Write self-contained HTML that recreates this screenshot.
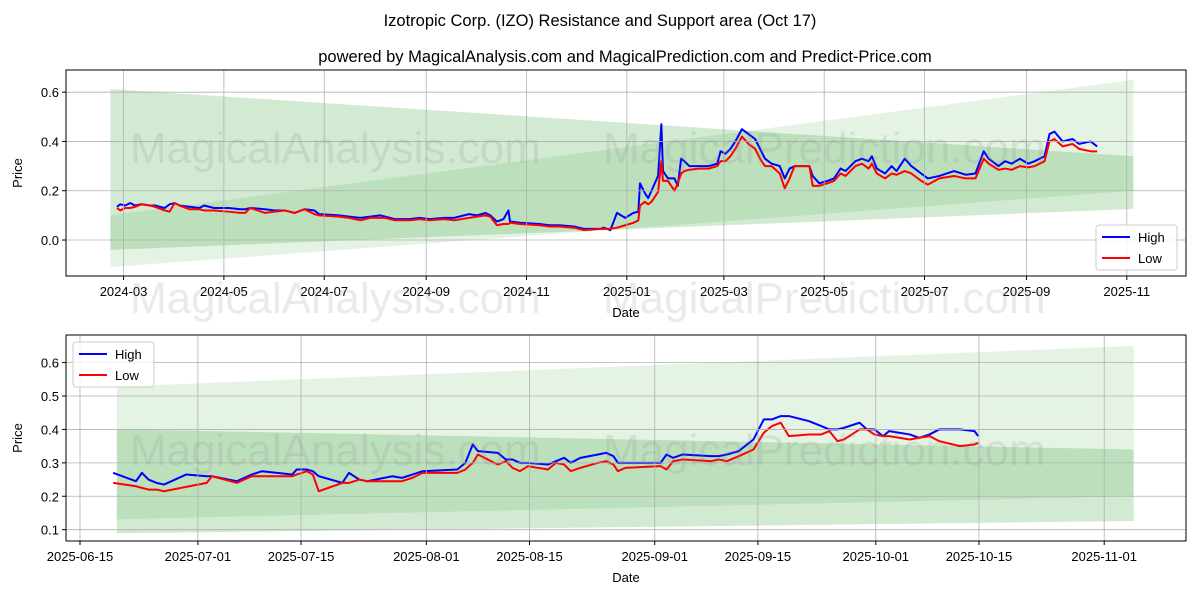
<!DOCTYPE html>
<html><head><meta charset="utf-8"><style>
body{margin:0;background:#fff;}
svg{display:block;font-family:"Liberation Sans","DejaVu Sans",sans-serif;}
</style></head><body>
<svg id="c" width="1200" height="600">
<text x="600" y="26" text-anchor="middle" font-size="16.5">Izotropic Corp. (IZO) Resistance and Support area (Oct 17)</text>
<text x="625" y="62" text-anchor="middle" font-size="16.5">powered by MagicalAnalysis.com and MagicalPrediction.com and Predict-Price.com</text>
</svg>
<script>
// ---- Top chart data (day offsets from 2024-03-01) ----
const topDays=[-4,-2,1,4,7,11,16,19,25,28,31,34,40,46,49,55,64,71,74,77,86,92,98,104,110,116,119,131,137,144,150,156,159,165,174,180,186,195,201,210,215,220,223,227,231,234,235,241,253,259,265,274,280,290,292,296,300,305,310,313,314,317,319,321,325,327,328,331,335,337,339,341,344,350,356,361,363,366,369,372,376,380,384,387,390,394,399,402,405,408,417,419,423,428,432,436,439,445,449,453,455,458,463,467,470,475,479,485,489,496,505,512,518,523,526,532,536,540,545,550,554,560,563,566,571,577,581,588,592];
const topHigh=[0.135,0.145,0.14,0.15,0.14,0.145,0.14,0.14,0.13,0.145,0.15,0.14,0.135,0.13,0.14,0.13,0.13,0.125,0.125,0.13,0.125,0.12,0.12,0.11,0.125,0.12,0.105,0.10,0.095,0.09,0.095,0.10,0.095,0.085,0.085,0.09,0.085,0.09,0.09,0.105,0.10,0.11,0.10,0.075,0.085,0.12,0.075,0.07,0.065,0.06,0.06,0.055,0.045,0.045,0.05,0.04,0.11,0.09,0.11,0.115,0.23,0.19,0.17,0.20,0.26,0.47,0.28,0.25,0.25,0.22,0.33,0.32,0.30,0.30,0.30,0.31,0.36,0.35,0.37,0.40,0.45,0.43,0.41,0.37,0.33,0.31,0.30,0.25,0.29,0.30,0.30,0.26,0.23,0.24,0.25,0.29,0.28,0.32,0.33,0.32,0.34,0.29,0.27,0.30,0.28,0.33,0.30,0.27,0.25,0.26,0.28,0.265,0.27,0.36,0.33,0.30,0.32,0.31,0.33,0.31,0.32,0.34,0.43,0.44,0.40,0.41,0.39,0.40,0.38];
const topLow=[0.13,0.12,0.13,0.13,0.135,0.145,0.14,0.135,0.12,0.115,0.15,0.14,0.125,0.125,0.12,0.12,0.115,0.11,0.11,0.13,0.11,0.115,0.12,0.11,0.125,0.105,0.10,0.095,0.09,0.08,0.09,0.09,0.09,0.08,0.08,0.085,0.08,0.085,0.08,0.09,0.095,0.10,0.095,0.06,0.065,0.065,0.07,0.065,0.06,0.055,0.055,0.05,0.04,0.045,0.045,0.045,0.05,0.06,0.07,0.08,0.14,0.155,0.145,0.155,0.195,0.32,0.24,0.24,0.20,0.23,0.27,0.28,0.285,0.29,0.29,0.30,0.32,0.32,0.34,0.37,0.42,0.39,0.37,0.33,0.30,0.30,0.27,0.21,0.25,0.30,0.30,0.22,0.22,0.23,0.24,0.27,0.26,0.30,0.31,0.29,0.31,0.27,0.25,0.27,0.265,0.28,0.27,0.24,0.225,0.25,0.26,0.25,0.25,0.33,0.31,0.285,0.29,0.285,0.30,0.295,0.30,0.32,0.40,0.41,0.38,0.39,0.37,0.36,0.36];
const topYTicks=[0.0,0.2,0.4,0.6];
const topXTicks=["2024-03","2024-05","2024-07","2024-09","2024-11","2025-01","2025-03","2025-05","2025-07","2025-09","2025-11"];
const topXTickDays=[0,61,122,184,245,306,365,426,487,549,610];
// ---- Bottom chart data (day offsets from 2025-06-15) ----
const botDays=[4.5,7.6,8.4,9.3,10.4,11.4,14.4,17.2,17.9,21.3,23.3,24.7,28.8,29.4,30.8,31.6,32.4,35.6,36.5,37.9,39.0,42.4,43.7,45.1,46.5,51.2,52.3,53.3,54.0,56.7,57.8,58.7,59.7,60.8,63.5,64.6,65.7,66.6,67.9,70.3,71.4,72.4,73.0,74.0,78.8,79.6,80.5,81.8,85.6,86.7,87.8,89.4,91.4,92.8,93.9,95.1,96.2,98.9,100.6,101.7,102.8,103.7,105.8,106.8,107.8,109.0,109.8,112.6,113.9,115.3,116.6,119.4,121.4,121.9];
const botHigh=[0.27,0.245,0.27,0.25,0.24,0.235,0.265,0.26,0.26,0.245,0.265,0.275,0.265,0.28,0.28,0.275,0.26,0.24,0.27,0.25,0.245,0.26,0.255,0.265,0.275,0.28,0.30,0.355,0.335,0.33,0.31,0.31,0.30,0.30,0.295,0.305,0.315,0.30,0.315,0.325,0.33,0.32,0.30,0.30,0.30,0.325,0.315,0.325,0.32,0.32,0.325,0.335,0.37,0.43,0.43,0.44,0.44,0.425,0.41,0.40,0.40,0.405,0.42,0.40,0.40,0.38,0.395,0.385,0.375,0.385,0.40,0.40,0.395,0.38];
const botLow=[0.24,0.23,0.225,0.22,0.22,0.215,0.228,0.24,0.26,0.24,0.26,0.26,0.26,0.265,0.275,0.265,0.215,0.24,0.24,0.25,0.245,0.245,0.245,0.255,0.27,0.27,0.28,0.30,0.325,0.295,0.305,0.285,0.275,0.29,0.28,0.30,0.295,0.275,0.285,0.30,0.305,0.295,0.275,0.285,0.29,0.28,0.305,0.31,0.305,0.31,0.305,0.32,0.34,0.39,0.41,0.42,0.38,0.385,0.385,0.395,0.365,0.37,0.40,0.40,0.385,0.38,0.38,0.37,0.375,0.38,0.365,0.35,0.355,0.36];
const botYTicks=[0.1,0.2,0.3,0.4,0.5,0.6];
const botXTicks=["2025-06-15","2025-07-01","2025-07-15","2025-08-01","2025-08-15","2025-09-01","2025-09-15","2025-10-01","2025-10-15","2025-11-01"];
const botXTickDays=[0,16,30,47,61,78,92,108,122,139];
// Bands (day offsets from 2024-03-01): resistance/support lines
const bandStartDay=-8, bandEndDay=614;
const bandAUpper=[0.613,0.34], bandALower=[-0.04,0.126];
const bandBUpper=[0.10,0.65], bandBLower=[-0.11,0.20];
const BOT_OFFSET=471; // 2025-06-15 relative to 2024-03-01

const NS="http://www.w3.org/2000/svg";
const svg=document.getElementById('c');
function mk(tag,attrs,parent){const e=document.createElementNS(NS,tag);for(const k in attrs)e.setAttribute(k,attrs[k]);(parent||svg).appendChild(e);return e;}

function drawPanel(p){
  const g=mk('g',{});
  
  
  const X=d=>p.x0+(d-p.d0)*(p.x1-p.x0)/(p.d1-p.d0);
  const Y=v=>p.y0+(p.v1-v)*(p.y1-p.y0)/(p.v1-p.v0);
  const cid='clip'+p.name;
  const cp=mk('clipPath',{id:cid},g);mk('rect',{x:p.x0,y:p.y0,width:p.x1-p.x0,height:p.y1-p.y0},cp);
  const inner=mk('g',{'clip-path':'url(#'+cid+')'},g);
  const bs=Math.max(bandStartDay,p.bandFrom), be=bandEndDay;
  const lin=(arr,d)=>arr[0]+(arr[1]-arr[0])*(d-bandStartDay)/(bandEndDay-bandStartDay);
  function band(up,lo,fill,op,name){
    const a=bs-p.off,b=be-p.off;
    const pts=[[X(a),Y(lin(up,bs))],[X(b),Y(lin(up,be))],[X(b),Y(lin(lo,be))],[X(a),Y(lin(lo,bs))]];
    const e=mk('polygon',{points:pts.map(q=>q.join(',')).join(' '),fill:fill,'fill-opacity':op},inner);
    
    
  }
  band(bandBUpper,bandBLower,'#2ca02c',0.13,'resistance-band');
  band(bandAUpper,bandALower,'#2ca02c',0.22,'support-band');
  p.yt.forEach(v=>{mk('line',{x1:p.x0,x2:p.x1,y1:Y(v),y2:Y(v),stroke:'#b0b0b0','stroke-width':0.8},g);
    const t=mk('text',{x:p.x0-7,y:Y(v)+5,'text-anchor':'end','font-size':13},g);t.textContent=v.toFixed(1);
    
    
    mk('line',{x1:p.x0-4,x2:p.x0,y1:Y(v),y2:Y(v),stroke:'#000'},g);});
  p.xtd.forEach((d,i)=>{const x=X(d);mk('line',{x1:x,x2:x,y1:p.y0,y2:p.y1,stroke:'#b0b0b0','stroke-width':0.8},g);
    mk('line',{x1:x,x2:x,y1:p.y1,y2:p.y1+4,stroke:'#000'},g);
    const t=mk('text',{x:x,y:p.y1+20,'text-anchor':'middle','font-size':13},g);t.textContent=p.xt[i];
    
    });
  p.wm.forEach(w=>{const t=mk('text',{x:w[0],y:w[1],'font-size':44,fill:'#888','fill-opacity':0.18},g);t.textContent=w[2];
    
    });
  function line(days,vals,col,name){
    const e=mk('polyline',{points:days.map((d,i)=>X(d)+','+Y(vals[i])).join(' '),fill:'none',stroke:col,'stroke-width':2,'stroke-linejoin':'round'},inner);
    
    
  }
  line(p.days,p.high,'#0000ff','high-line');
  line(p.days,p.low,'#ff0000','low-line');
  mk('rect',{x:p.x0,y:p.y0,width:p.x1-p.x0,height:p.y1-p.y0,fill:'none',stroke:'#000','stroke-width':1},g);
  const yl=mk('text',{x:0,y:0,'font-size':13,'text-anchor':'middle',transform:`translate(${p.x0-p.ylOff},${(p.y0+p.y1)/2}) rotate(-90)`},g);yl.textContent='Price';
  
  
  const xl=mk('text',{x:(p.x0+p.x1)/2,y:p.y1+41,'font-size':13,'text-anchor':'middle'},g);xl.textContent='Date';
  
  
  const L=p.leg;
  const lg=mk('g',{},g);
  
  
  mk('rect',{x:L[0],y:L[1],width:81,height:45,rx:3,fill:'#fff','fill-opacity':0.8,stroke:'#ccc'},lg);
  [['High','#0000ff'],['Low','#ff0000']].forEach((s,i)=>{const yy=L[1]+12+i*21;
    mk('line',{x1:L[0]+6,x2:L[0]+34,y1:yy,y2:yy,stroke:s[1],'stroke-width':2},lg);
    const t=mk('text',{x:L[0]+42,y:yy+5,'font-size':13},lg);t.textContent=s[0];
    
    });
}
drawPanel({name:'top-panel',x0:66,x1:1186,y0:70,y1:276,d0:-35,d1:646,v0:-0.146,v1:0.69,off:0,bandFrom:bandStartDay,
  days:topDays,high:topHigh,low:topLow,yt:topYTicks,xt:topXTicks,xtd:topXTickDays,ylOff:44,leg:[1096,225],
  wm:[[130,163,'MagicalAnalysis.com'],[603,163,'MagicalPrediction.com'],[130,313,'MagicalAnalysis.com'],[603,313,'MagicalPrediction.com']]});
drawPanel({name:'bottom-panel',x0:66,x1:1186,y0:335,y1:541,d0:-1.9,d1:150.1,v0:0.0661,v1:0.6826,off:BOT_OFFSET,bandFrom:BOT_OFFSET+5,
  days:botDays,high:botHigh,low:botLow,yt:botYTicks,xt:botXTicks,xtd:botXTickDays,ylOff:44,leg:[73,342],
  wm:[[130,465,'MagicalAnalysis.com'],[603,465,'MagicalPrediction.com']]});
</script>
</body></html>
